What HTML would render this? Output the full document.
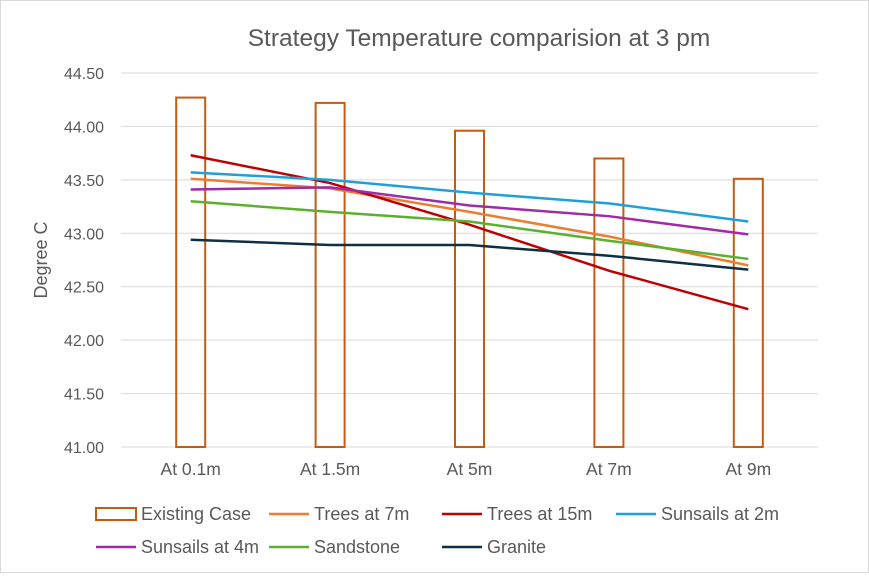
<!DOCTYPE html>
<html><head><meta charset="utf-8"><style>
body{margin:0;background:#fff;font-family:"Liberation Sans",sans-serif}
#c{position:absolute;left:0;top:0;width:867px;height:571px;border:1px solid #d9d9d9}
</style></head><body>
<div id="c">
<svg id="s" width="869" height="573"></svg>
</div>
<script>
const categories=["At 0.1m","At 1.5m","At 5m","At 7m","At 9m"];
const yTicks=[41.00,41.50,42.00,42.50,43.00,43.50,44.00,44.50];
const existingCase=[44.27,44.22,43.96,43.70,43.51];
const trees7=[43.51,43.42,43.20,42.97,42.70];
const trees15=[43.73,43.47,43.08,42.65,42.29];
const sunsails2=[43.57,43.50,43.38,43.28,43.11];
const sunsails4=[43.41,43.43,43.26,43.16,42.99];
const sandstone=[43.30,43.20,43.11,42.93,42.76];
const granite=[42.94,42.89,42.89,42.79,42.66];
const lineSeries=[["Trees at 7m",trees7,"#ED7D31","trees-7m"],["Trees at 15m",trees15,"#C00000","trees-15m"],["Sunsails at 2m",sunsails2,"#1FA0D8","sunsails-2m"],["Sunsails at 4m",sunsails4,"#A02BA8","sunsails-4m"],["Sandstone",sandstone,"#5BB030","sandstone"],["Granite",granite,"#0E2F44","granite"]];
const NS="http://www.w3.org/2000/svg",s=document.getElementById('s');
const x0=120,x1=817,yMin=41,yMax=44.5,yB=446,yT=72;
const X=i=>x0+(i+0.5)*(x1-x0)/categories.length;
const Y=v=>yB-(v-yMin)/(yMax-yMin)*(yB-yT);
function el(t,a,txt){const e=document.createElementNS(NS,t);for(const k in a)e.setAttribute(k,a[k]);if(txt!=null)e.textContent=txt;s.appendChild(e);return e;}
let e=el('text',{x:478,y:45,'text-anchor':'middle','font-size':24.5,fill:'#595959'},"Strategy Temperature comparision at 3 pm");

yTicks.forEach(v=>{let g=el('line',{x1:x0,x2:x1,y1:Y(v),y2:Y(v),stroke:'#d9d9d9','stroke-width':1});

let t=el('text',{x:103,y:Y(v)+6,'text-anchor':'end','font-size':16,fill:'#595959'},v.toFixed(2));
});
categories.forEach((c,i)=>{let t=el('text',{x:X(i),y:474,'text-anchor':'middle','font-size':17.5,fill:'#595959'},c);
});
e=el('text',{x:46,y:259,'text-anchor':'middle','font-size':18,fill:'#595959',transform:'rotate(-90 46 259)'},"Degree C");

existingCase.forEach((v,i)=>{let b=el('rect',{x:X(i)-14.5,y:Y(v),width:29,height:yB-Y(v),fill:'none',stroke:'#C55A11','stroke-width':2});
});
lineSeries.forEach(([n,d,col,id])=>{let p=el('polyline',{points:d.map((v,i)=>X(i)+','+Y(v)).join(' '),fill:'none',stroke:col,'stroke-width':2.5});
});
const leg=[["Existing Case",null,95,513],["Trees at 7m","#ED7D31",268,513],["Trees at 15m","#C00000",441,513],["Sunsails at 2m","#1FA0D8",615,513],["Sunsails at 4m","#A02BA8",95,546],["Sandstone","#5BB030",268,546],["Granite","#0E2F44",441,546]];
leg.forEach(([n,col,x,y])=>{let m;
if(!col)m=el('rect',{x:x,y:y-6,width:40,height:12,fill:'none',stroke:'#C55A11','stroke-width':2});
else m=el('line',{x1:x,x2:x+40,y1:y,y2:y,stroke:col,'stroke-width':2.5});

let t=el('text',{x:x+45,y:y+6,'font-size':18,fill:'#595959'},n);
});
</script></body></html>
